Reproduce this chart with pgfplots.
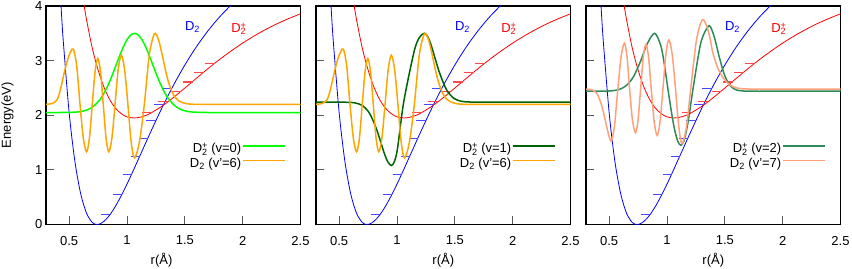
\documentclass[border=0pt]{standalone}
\usepackage{fontspec}
\setmainfont{Liberation Sans}
\usepackage{pgfplots}
\pgfplotsset{compat=1.18}
\definecolor{cgreen}{RGB}{0,255,0}
\definecolor{corange}{RGB}{255,165,0}
\definecolor{cdkgreen}{RGB}{0,100,0}
\definecolor{cseagreen}{RGB}{46,139,87}
\definecolor{csalmon}{RGB}{255,160,122}
\newcommand{\Dtwo}{D\textsubscript{2}}
\newcommand{\Dplus}{D\rlap{\textsuperscript{+}}\textsubscript{2}}
\newcommand{\fs}{\fontsize{13}{15}\selectfont}
\pgfplotsset{
  panel/.style={
    scale only axis, width=254.5pt, height=218.5pt,
    xmin=0.3, xmax=2.5, ymin=0, ymax=4,
    xtick={0.5,1,1.5,2,2.5}, ytick={0,1,2,3,4},
    tick align=inside, xtick pos=left, ytick pos=left,
    major tick length=8pt,
    tick style={black!65, line width=0.8pt},
    axis line style={line width=1.6pt},
    ticklabel style={font=\fs},
    /pgf/number format/assume math mode=true,
    xticklabel style={yshift=-8pt},
    legend cell align=right, legend plot pos=right,
    legend image code/.code={\draw[##1] (0pt,3.6pt) -- (42pt,3.6pt);},
    legend style={draw=none, fill=none, at={(rel axis cs:0.943,0.31)}, anchor=east,
      font=\fs, row sep=0pt, inner sep=0pt, nodes={inner sep=1pt, text height=9.5pt, text depth=2.8pt}},
    xlabel={r(Å)},
    every axis x label/.style={at={(rel axis cs:0.5,0)}, anchor=base, yshift=-39.5pt, font=\fs},
  },
  pot/.style={forget plot, smooth, line width=0.8pt},
  wf/.style={smooth, line width=1.5pt},
  bdash/.style={forget plot, blue!72, line width=1.3pt, unbounded coords=jump},
  rdash/.style={forget plot, red!72, line width=1.3pt, unbounded coords=jump},
}
\begin{document}
\begin{tikzpicture}
\useasboundingbox (0,0) rectangle (852pt,268pt);
% ---------------- Panel 1
\begin{axis}[panel, at={(46pt,43.5pt)}, anchor=south west,
  ylabel={Energy(eV)},
  every axis y label/.style={at={(rel axis cs:-0.1513,0.5)}, rotate=90, anchor=center, font=\fs},
  every axis x label/.style={at={(rel axis cs:0.454,0)}, anchor=base, yshift=-39.5pt, font=\fs}]
\addplot[pot, blue] coordinates {(0.42,4.35) (0.435,3.82) (0.45,3.34) (0.50,2.049) (0.55,1.152) (0.60,0.562) (0.65,0.209) (0.70,0.037) (0.74,0) (0.78,0.026) (0.82,0.096) (0.86,0.200) (0.90,0.332) (0.95,0.525) (1.0,0.739) (1.05,0.967) (1.1,1.202) (1.2,1.672) (1.3,2.124) (1.4,2.542) (1.5,2.919) (1.6,3.253) (1.7,3.545) (1.8,3.799) (1.9,4.017)};
\addplot[pot, red] coordinates {(0.62,4.13) (0.65,3.755) (0.70,3.23) (0.75,2.83) (0.80,2.52) (0.85,2.29) (0.90,2.13) (0.95,2.03) (1.00,1.97) (1.06,1.95) (1.1,1.958) (1.15,1.987) (1.2,2.033) (1.3,2.162) (1.4,2.322) (1.5,2.498) (1.6,2.677) (1.7,2.853) (1.8,3.020) (1.9,3.176) (2.0,3.321) (2.1,3.452) (2.2,3.571) (2.3,3.678) (2.4,3.772) (2.5,3.857)};
\addplot[bdash] coordinates {(0.777,0.18) (0.863,0.18) (0.87,nan) (0.877,0.55) (0.957,0.55) (0.96,nan) (0.962,0.92) (1.043,0.92) (1.05,nan) (1.034,1.25) (1.114,1.25) (1.12,nan) (1.106,1.58) (1.185,1.58) (1.19,nan) (1.163,1.90) (1.249,1.90) (1.25,nan) (1.234,2.20) (1.32,2.20) (1.33,nan) (1.305,2.49) (1.39,2.49)};
\addplot[rdash] coordinates {(1.129,2.05) (1.214,2.05) (1.22,nan) (1.271,2.25) (1.357,2.25) (1.36,nan) (1.39,2.43) (1.47,2.43) (1.48,nan) (1.484,2.61) (1.57,2.61) (1.58,nan) (1.577,2.78) (1.662,2.78) (1.67,nan) (1.671,2.95) (1.757,2.95)};
\addplot[wf, cgreen] coordinates {(0.3,2.05) (0.465,2.051) (0.565,2.059) (0.615,2.074) (0.665,2.106) (0.715,2.171) (0.765,2.283) (0.79,2.363) (0.815,2.458) (0.84,2.569) (0.865,2.694) (0.89,2.829) (0.915,2.969) (0.94,3.106) (0.965,3.234) (0.99,3.344) (1.015,3.428) (1.04,3.482) (1.065,3.50) (1.09,3.482) (1.115,3.428) (1.14,3.344) (1.165,3.234) (1.19,3.106) (1.215,2.969) (1.24,2.829) (1.265,2.694) (1.29,2.569) (1.315,2.458) (1.34,2.363) (1.365,2.283) (1.415,2.171) (1.465,2.106) (1.515,2.074) (1.565,2.059) (1.665,2.051) (1.8,2.05) (2.1,2.05) (2.5,2.05)};
\addlegendentry{\Dplus{} (v=0)}
\addplot[wf, corange] coordinates {(0.30,2.20) (0.36,2.22) (0.40,2.30) (0.43,2.52) (0.46,2.80) (0.49,3.04) (0.515,3.17) (0.537,3.21) (0.565,2.91) (0.594,2.20) (0.6225,1.585) (0.651,1.33) (0.6755,1.585) (0.70,2.20) (0.724,2.794) (0.748,3.04) (0.7715,2.794) (0.795,2.20) (0.819,1.585) (0.843,1.33) (0.870,1.585) (0.897,2.20) (0.924,2.836) (0.951,3.10) (0.9795,2.836) (1.008,2.20) (1.0365,1.507) (1.065,1.22) (1.1075,1.507) (1.15,2.20) (1.1935,3.112) (1.237,3.49) (1.27,3.40) (1.30,3.15) (1.33,2.85) (1.36,2.60) (1.40,2.38) (1.45,2.26) (1.52,2.21) (1.60,2.20) (1.8,2.20) (2.1,2.20) (2.50,2.20)};
\addlegendentry{\Dtwo{} (v'=6)}
\node[text=blue, anchor=base west, font=\fs, inner sep=0pt] at (axis cs:1.5,3.55) {\Dtwo};
\node[text=red, anchor=base west, font=\fs, inner sep=0pt] at (axis cs:1.9,3.51) {\Dplus};
\end{axis}
% ---------------- Panel 2
\begin{axis}[panel, at={(316pt,43.5pt)}, anchor=south west, yticklabels={}]
\addplot[pot, blue] coordinates {(0.42,4.35) (0.435,3.82) (0.45,3.34) (0.50,2.049) (0.55,1.152) (0.60,0.562) (0.65,0.209) (0.70,0.037) (0.74,0) (0.78,0.026) (0.82,0.096) (0.86,0.200) (0.90,0.332) (0.95,0.525) (1.0,0.739) (1.05,0.967) (1.1,1.202) (1.2,1.672) (1.3,2.124) (1.4,2.542) (1.5,2.919) (1.6,3.253) (1.7,3.545) (1.8,3.799) (1.9,4.017)};
\addplot[pot, red] coordinates {(0.62,4.13) (0.65,3.755) (0.70,3.23) (0.75,2.83) (0.80,2.52) (0.85,2.29) (0.90,2.13) (0.95,2.03) (1.00,1.97) (1.06,1.95) (1.1,1.958) (1.15,1.987) (1.2,2.033) (1.3,2.162) (1.4,2.322) (1.5,2.498) (1.6,2.677) (1.7,2.853) (1.8,3.020) (1.9,3.176) (2.0,3.321) (2.1,3.452) (2.2,3.571) (2.3,3.678) (2.4,3.772) (2.5,3.857)};
\addplot[bdash] coordinates {(0.777,0.18) (0.863,0.18) (0.87,nan) (0.877,0.55) (0.957,0.55) (0.96,nan) (0.962,0.92) (1.043,0.92) (1.05,nan) (1.034,1.25) (1.114,1.25) (1.12,nan) (1.106,1.58) (1.185,1.58) (1.19,nan) (1.163,1.90) (1.249,1.90) (1.25,nan) (1.234,2.20) (1.32,2.20) (1.33,nan) (1.305,2.49) (1.39,2.49)};
\addplot[rdash] coordinates {(1.129,2.05) (1.214,2.05) (1.22,nan) (1.271,2.25) (1.357,2.25) (1.36,nan) (1.39,2.43) (1.47,2.43) (1.48,nan) (1.484,2.61) (1.57,2.61) (1.58,nan) (1.577,2.78) (1.662,2.78) (1.67,nan) (1.671,2.95) (1.757,2.95)};
\addplot[wf, cdkgreen] coordinates {(0.30,2.24) (0.45,2.24) (0.577,2.237) (0.6395,2.225) (0.702,2.176) (0.7645,2.030) (0.827,1.723) (0.8895,1.309) (0.921,1.146) (0.952,1.08) (0.9785,1.157) (1.005,1.396) (1.058,2.24) (1.147,3.157) (1.1915,3.416) (1.236,3.50) (1.268,3.429) (1.300,3.252) (1.364,2.802) (1.428,2.468) (1.492,2.309) (1.556,2.256) (1.62,2.243) (1.72,2.24) (2.0,2.24) (2.5,2.24)};
\addlegendentry{\Dplus{} (v=1)}
\addplot[wf, corange] coordinates {(0.30,2.20) (0.36,2.22) (0.40,2.30) (0.43,2.52) (0.46,2.80) (0.49,3.04) (0.515,3.17) (0.537,3.21) (0.565,2.91) (0.594,2.20) (0.6225,1.585) (0.651,1.33) (0.6755,1.585) (0.70,2.20) (0.724,2.794) (0.748,3.04) (0.7715,2.794) (0.795,2.20) (0.819,1.585) (0.843,1.33) (0.870,1.585) (0.897,2.20) (0.924,2.836) (0.951,3.10) (0.9795,2.836) (1.008,2.20) (1.0365,1.507) (1.065,1.22) (1.1075,1.507) (1.15,2.20) (1.1935,3.112) (1.237,3.49) (1.27,3.40) (1.30,3.15) (1.33,2.85) (1.36,2.60) (1.40,2.38) (1.45,2.26) (1.52,2.21) (1.60,2.20) (1.8,2.20) (2.1,2.20) (2.50,2.20)};
\addlegendentry{\Dtwo{} (v'=6)}
\node[text=blue, anchor=base west, font=\fs, inner sep=0pt] at (axis cs:1.5,3.55) {\Dtwo};
\node[text=red, anchor=base west, font=\fs, inner sep=0pt] at (axis cs:1.9,3.51) {\Dplus};
\end{axis}
% ---------------- Panel 3
\begin{axis}[panel, at={(586pt,43.5pt)}, anchor=south west, yticklabels={}]
\addplot[pot, blue] coordinates {(0.42,4.35) (0.435,3.82) (0.45,3.34) (0.50,2.049) (0.55,1.152) (0.60,0.562) (0.65,0.209) (0.70,0.037) (0.74,0) (0.78,0.026) (0.82,0.096) (0.86,0.200) (0.90,0.332) (0.95,0.525) (1.0,0.739) (1.05,0.967) (1.1,1.202) (1.2,1.672) (1.3,2.124) (1.4,2.542) (1.5,2.919) (1.6,3.253) (1.7,3.545) (1.8,3.799) (1.9,4.017)};
\addplot[pot, red] coordinates {(0.62,4.13) (0.65,3.755) (0.70,3.23) (0.75,2.83) (0.80,2.52) (0.85,2.29) (0.90,2.13) (0.95,2.03) (1.00,1.97) (1.06,1.95) (1.1,1.958) (1.15,1.987) (1.2,2.033) (1.3,2.162) (1.4,2.322) (1.5,2.498) (1.6,2.677) (1.7,2.853) (1.8,3.020) (1.9,3.176) (2.0,3.321) (2.1,3.452) (2.2,3.571) (2.3,3.678) (2.4,3.772) (2.5,3.857)};
\addplot[bdash] coordinates {(0.777,0.18) (0.863,0.18) (0.87,nan) (0.877,0.55) (0.957,0.55) (0.96,nan) (0.962,0.92) (1.043,0.92) (1.05,nan) (1.034,1.25) (1.114,1.25) (1.12,nan) (1.106,1.58) (1.185,1.58) (1.19,nan) (1.163,1.90) (1.249,1.90) (1.25,nan) (1.234,2.20) (1.32,2.20) (1.33,nan) (1.305,2.49) (1.39,2.49)};
\addplot[rdash] coordinates {(1.129,2.05) (1.214,2.05) (1.22,nan) (1.271,2.25) (1.357,2.25) (1.36,nan) (1.39,2.43) (1.47,2.43) (1.48,nan) (1.484,2.61) (1.57,2.61) (1.58,nan) (1.577,2.78) (1.662,2.78) (1.67,nan) (1.671,2.95) (1.757,2.95)};
\addplot[wf, cseagreen] coordinates {(0.30,2.44) (0.45,2.44) (0.531,2.450) (0.591,2.475) (0.651,2.548) (0.711,2.709) (0.771,2.986) (0.831,3.316) (0.894,3.50) (0.945,3.286) (0.972,3.001) (1.011,2.44) (1.043,2.003) (1.066,1.737) (1.093,1.525) (1.120,1.45) (1.145,1.525) (1.170,1.737) (1.192,2.003) (1.222,2.44) (1.270,3.075) (1.302,3.398) (1.364,3.64) (1.409,3.431) (1.453,3.058) (1.496,2.745) (1.539,2.562) (1.583,2.480) (1.626,2.451) (1.72,2.44) (2.0,2.44) (2.5,2.44)};
\addlegendentry{\Dplus{} (v=2)}
\addplot[wf, csalmon] coordinates {(0.30,2.48) (0.36,2.46) (0.39,2.41) (0.42,2.28) (0.45,2.06) (0.48,1.78) (0.50,1.61) (0.52,1.53) (0.5465,1.808) (0.575,2.48) (0.6035,3.074) (0.632,3.32) (0.6545,3.074) (0.677,2.48) (0.7015,1.914) (0.728,1.68) (0.750,1.914) (0.772,2.48) (0.7945,3.06) (0.818,3.30) (0.841,3.06) (0.864,2.48) (0.8895,1.879) (0.915,1.63) (0.940,1.879) (0.965,2.48) (0.9905,3.116) (1.016,3.38) (1.045,3.116) (1.074,2.48) (1.103,1.773) (1.13,1.48) (1.1675,1.773) (1.205,2.48) (1.255,3.378) (1.305,3.75) (1.345,3.62) (1.375,3.38) (1.398,3.13) (1.442,2.85) (1.475,2.72) (1.515,2.61) (1.565,2.53) (1.625,2.49) (1.715,2.48) (2.0,2.48) (2.5,2.48)};
\addlegendentry{\Dtwo{} (v'=7)}
\node[text=blue, anchor=base west, font=\fs, inner sep=0pt] at (axis cs:1.5,3.55) {\Dtwo};
\node[text=red, anchor=base west, font=\fs, inner sep=0pt] at (axis cs:1.9,3.51) {\Dplus};
\end{axis}
\end{tikzpicture}
\end{document}
